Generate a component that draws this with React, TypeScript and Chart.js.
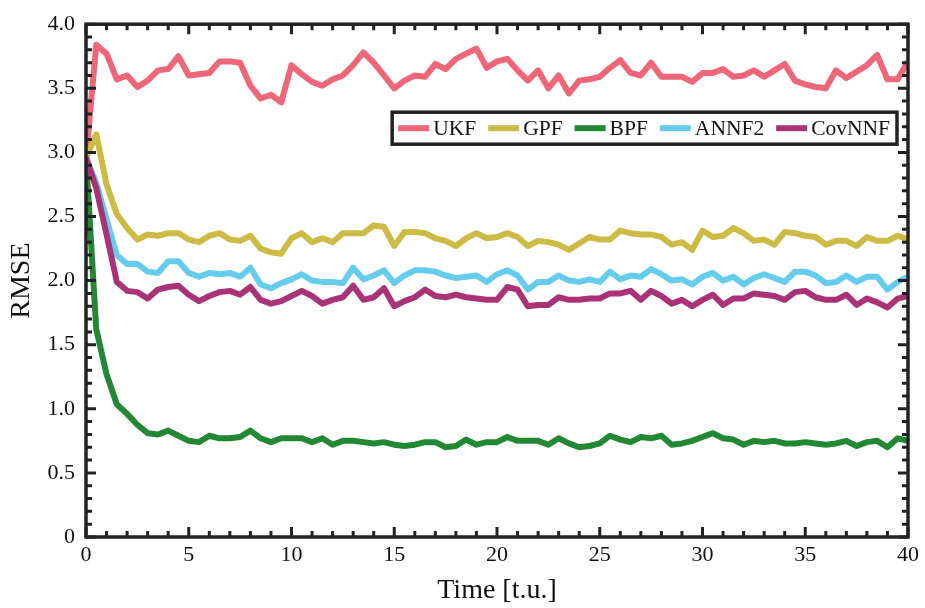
import React, { useEffect, useRef } from "react";
import { Chart, registerables } from "chart.js";
Chart.register(...registerables);

const times = [
  0, 0.5, 1, 1.5, 2, 2.5, 3, 3.5, 4, 4.5, 5, 5.5, 6, 6.5, 7, 7.5, 8, 8.5, 9, 9.5,
  10, 10.5, 11, 11.5, 12, 12.5, 13, 13.5, 14, 14.5, 15, 15.5, 16, 16.5, 17, 17.5, 18, 18.5, 19, 19.5,
  20, 20.5, 21, 21.5, 22, 22.5, 23, 23.5, 24, 24.5, 25, 25.5, 26, 26.5, 27, 27.5, 28, 28.5, 29, 29.5,
  30, 30.5, 31, 31.5, 32, 32.5, 33, 33.5, 34, 34.5, 35, 35.5, 36, 36.5, 37, 37.5, 38, 38.5, 39, 39.5, 40,
];

const ukf = [
  2.96, 3.84, 3.77, 3.57, 3.6, 3.51, 3.56, 3.64, 3.65, 3.75, 3.6, 3.61, 3.62, 3.71, 3.71, 3.7, 3.52, 3.42, 3.45, 3.39,
  3.68, 3.61, 3.55, 3.52, 3.57, 3.6, 3.68, 3.78, 3.7, 3.6, 3.5, 3.56, 3.6, 3.59, 3.69, 3.65, 3.73, 3.77, 3.81, 3.66,
  3.71, 3.73, 3.64, 3.56, 3.64, 3.5, 3.6, 3.46, 3.56, 3.57, 3.59, 3.66, 3.72, 3.62, 3.6, 3.7, 3.59, 3.59, 3.59, 3.55,
  3.62, 3.62, 3.65, 3.59, 3.6, 3.64, 3.59, 3.64, 3.69, 3.56, 3.53, 3.51, 3.5, 3.64, 3.58, 3.63, 3.68, 3.76, 3.57, 3.57, 3.71,
];

const gpf = [
  2.96, 3.14, 2.75, 2.52, 2.41, 2.32, 2.36, 2.35, 2.37, 2.37, 2.32, 2.3, 2.35, 2.37, 2.32, 2.31, 2.35, 2.25, 2.22, 2.21,
  2.33, 2.37, 2.3, 2.33, 2.3, 2.37, 2.37, 2.37, 2.43, 2.42, 2.27, 2.38, 2.38, 2.37, 2.33, 2.31, 2.27, 2.33, 2.37, 2.33,
  2.34, 2.37, 2.34, 2.27, 2.31, 2.3, 2.28, 2.24, 2.29, 2.34, 2.32, 2.32, 2.39, 2.37, 2.36, 2.36, 2.34, 2.28, 2.3, 2.24,
  2.39, 2.34, 2.35, 2.41, 2.37, 2.31, 2.32, 2.28, 2.38, 2.37, 2.35, 2.34, 2.28, 2.31, 2.31, 2.27, 2.34, 2.31, 2.31, 2.35, 2.32,
];

const bpf = [
  2.96, 1.62, 1.27, 1.035, 0.96, 0.876, 0.81, 0.8, 0.83, 0.79, 0.75, 0.74, 0.79, 0.77, 0.77, 0.78, 0.83, 0.77, 0.74, 0.77,
  0.77, 0.77, 0.74, 0.77, 0.72, 0.75, 0.75, 0.74, 0.73, 0.74, 0.72, 0.71, 0.72, 0.74, 0.74, 0.7, 0.71, 0.76, 0.72, 0.74,
  0.74, 0.78, 0.75, 0.75, 0.75, 0.72, 0.77, 0.73, 0.7, 0.71, 0.73, 0.79, 0.76, 0.74, 0.78, 0.77, 0.79, 0.72, 0.73, 0.75,
  0.78, 0.81, 0.77, 0.76, 0.72, 0.75, 0.74, 0.75, 0.73, 0.73, 0.74, 0.73, 0.72, 0.73, 0.75, 0.71, 0.74, 0.75, 0.7, 0.77, 0.75,
];

const annf2 = [
  2.96, 2.76, 2.48, 2.2, 2.13, 2.13, 2.07, 2.06, 2.15, 2.15, 2.06, 2.03, 2.06, 2.05, 2.06, 2.03, 2.1, 1.97, 1.94, 1.98,
  2.01, 2.05, 2.0, 1.99, 1.99, 1.98, 2.1, 2.01, 2.04, 2.08, 1.98, 2.04, 2.08, 2.08, 2.07, 2.04, 2.02, 2.03, 2.04, 1.99,
  2.05, 2.08, 2.04, 1.93, 1.99, 1.99, 2.04, 2.0, 1.99, 2.01, 1.99, 2.07, 2.01, 2.04, 2.03, 2.09, 2.05, 2.0, 2.01, 1.97,
  2.03, 2.06, 2.0, 2.03, 1.97, 2.02, 2.05, 2.02, 1.99, 2.07, 2.07, 2.04, 1.98, 1.99, 2.04, 1.99, 2.03, 2.03, 1.93, 1.99, 2.03,
];

const covnnf = [
  2.96, 2.72, 2.36, 1.99, 1.92, 1.91, 1.86, 1.93, 1.95, 1.96, 1.89, 1.84, 1.88, 1.91, 1.92, 1.89, 1.95, 1.85, 1.82, 1.84,
  1.88, 1.92, 1.88, 1.82, 1.85, 1.87, 1.96, 1.85, 1.87, 1.94, 1.8, 1.84, 1.87, 1.93, 1.88, 1.87, 1.89, 1.87, 1.86, 1.85,
  1.85, 1.95, 1.93, 1.8, 1.81, 1.81, 1.87, 1.85, 1.85, 1.86, 1.86, 1.9, 1.9, 1.92, 1.85, 1.92, 1.88, 1.82, 1.85, 1.8,
  1.85, 1.89, 1.81, 1.86, 1.86, 1.9, 1.89, 1.88, 1.85, 1.91, 1.92, 1.87, 1.85, 1.85, 1.89, 1.81, 1.86, 1.83, 1.79, 1.86, 1.88,
];

const seriesNames = ["UKF", "GPF", "BPF", "ANNF2", "CovNNF"];
const seriesValues = [ukf, gpf, bpf, annf2, covnnf];
const seriesColors = ["#EE6677", "#CCBB44", "#228833", "#66CCEE", "#AA3377"];

const xMin = 0;
const xMax = 40;
const xMajorStep = 5;
const xMinorStep = 1;
const yMin = 0;
const yMax = 4;
const yMajorStep = 0.5;
const yMinorStep = 0.1;

const xTitle = "Time [t.u.]";
const yTitle = "RMSE";

const FONT = "'Liberation Serif', 'DejaVu Serif', serif";
const INK = "#222222";

const frameTicksPlugin = {
  id: "frameTicks",
  afterDatasetsDraw(chart: any) {
    const { ctx, chartArea, scales } = chart;
    const { left, right, top, bottom } = chartArea;
    const xs = scales.x;
    const ys = scales.y;
    ctx.save();
    ctx.strokeStyle = INK;
    ctx.lineWidth = 3;
    ctx.lineCap = "butt";
    ctx.beginPath();
    const nx = Math.round((xMax - xMin) / xMinorStep);
    for (let i = 0; i <= nx; i++) {
      const v = xMin + i * xMinorStep;
      const major = Math.abs(v / xMajorStep - Math.round(v / xMajorStep)) < 1e-6;
      const len = major ? 10 : 6;
      const px = xs.getPixelForValue(v);
      ctx.moveTo(px, bottom);
      ctx.lineTo(px, bottom - len);
      ctx.moveTo(px, top);
      ctx.lineTo(px, top + len);
    }
    const ny = Math.round((yMax - yMin) / yMinorStep);
    for (let i = 0; i <= ny; i++) {
      const v = yMin + i * yMinorStep;
      const major = Math.abs(v / yMajorStep - Math.round(v / yMajorStep)) < 1e-6;
      const len = major ? 10 : 6;
      const py = ys.getPixelForValue(v);
      ctx.moveTo(left, py);
      ctx.lineTo(left + len, py);
      ctx.moveTo(right, py);
      ctx.lineTo(right - len, py);
    }
    ctx.stroke();
    ctx.lineWidth = 3.5;
    ctx.strokeRect(left, top, right - left, bottom - top);
    ctx.restore();
  },
};

const legendPlugin = {
  id: "insideLegend",
  afterDraw(chart: any) {
    const { ctx, chartArea } = chart;
    const fontSize = 21.5;
    const sample = 31;
    const gapText = 4;
    const gapItem = 12;
    const padL = 6;
    const padR = 7;
    const h = 32;
    ctx.save();
    ctx.font = `${fontSize}px ${FONT}`;
    const widths = seriesNames.map((n) => ctx.measureText(n).width);
    let total = padL + padR;
    widths.forEach((w, i) => {
      total += sample + gapText + w + (i > 0 ? gapItem : 0);
    });
    const boxRight = chartArea.right - 11;
    const boxLeft = boxRight - total;
    const boxTop = chartArea.top + 88;
    ctx.fillStyle = "#ffffff";
    ctx.fillRect(boxLeft, boxTop, total, h);
    ctx.strokeStyle = INK;
    ctx.lineWidth = 3.5;
    ctx.strokeRect(boxLeft, boxTop, total, h);
    let x = boxLeft + padL;
    const cy = boxTop + h / 2;
    seriesNames.forEach((name, i) => {
      ctx.strokeStyle = seriesColors[i];
      ctx.lineWidth = 6;
      ctx.beginPath();
      ctx.moveTo(x, cy);
      ctx.lineTo(x + sample, cy);
      ctx.stroke();
      x += sample + gapText;
      ctx.fillStyle = "#111111";
      ctx.textBaseline = "middle";
      ctx.textAlign = "left";
      ctx.fillText(name, x, cy + 1);
      x += widths[i] + gapItem;
    });
    ctx.restore();
  },
};

export default function App() {
  const canvasRef = useRef<HTMLCanvasElement | null>(null);

  useEffect(() => {
    if (!canvasRef.current) return;
    const datasets = seriesNames.map((name, i) => ({
      label: name,
      data: seriesValues[i].map((v, k) => ({ x: times[k], y: v })),
      borderColor: seriesColors[i],
      backgroundColor: seriesColors[i],
      borderWidth: 6,
      pointRadius: 0,
      tension: 0,
      fill: false,
      borderJoinStyle: "round" as const,
      order: seriesNames.length - 1 - i,
    }));
    const chart = new Chart(canvasRef.current, {
      type: "line",
      data: { datasets },
      options: {
        animation: false,
        responsive: false,
        maintainAspectRatio: false,
        layout: { padding: { top: 18, right: 17, left: 0, bottom: 0 } },
        plugins: { legend: { display: false }, tooltip: { enabled: false } },
        scales: {
          x: {
            type: "linear",
            min: xMin,
            max: xMax,
            grid: { display: false, drawTicks: false },
            border: { display: false },
            ticks: {
              stepSize: xMajorStep,
              padding: 5,
              color: "#111111",
              font: { family: FONT, size: 22 },
              maxRotation: 0,
            },
            title: {
              display: true,
              text: xTitle,
              color: "#111111",
              font: { family: FONT, size: 28 },
              padding: { top: 0, bottom: 1 },
            },
            afterFit(scale: any) {
              scale.height = 71;
            },
          },
          y: {
            type: "linear",
            min: yMin,
            max: yMax,
            grid: { display: false, drawTicks: false },
            border: { display: false },
            ticks: {
              stepSize: yMajorStep,
              padding: 11,
              color: "#111111",
              font: { family: FONT, size: 22 },
              callback: (v: any) => (Number(v) === 0 ? "0" : Number(v).toFixed(1)),
            },
            title: {
              display: true,
              text: yTitle,
              color: "#111111",
              font: { family: FONT, size: 28 },
              padding: { top: 5, bottom: 0 },
            },
            afterFit(scale: any) {
              scale.width = 86;
            },
          },
        },
      },
      plugins: [frameTicksPlugin, legendPlugin],
    });
    return () => chart.destroy();
  }, []);

  return (
    <div style={{ position: "fixed", left: 0, top: 0, width: 925, height: 608, background: "#fff" }}>
      <canvas ref={canvasRef} width={925} height={608} style={{ width: 925, height: 608 }} />
    </div>
  );
}
